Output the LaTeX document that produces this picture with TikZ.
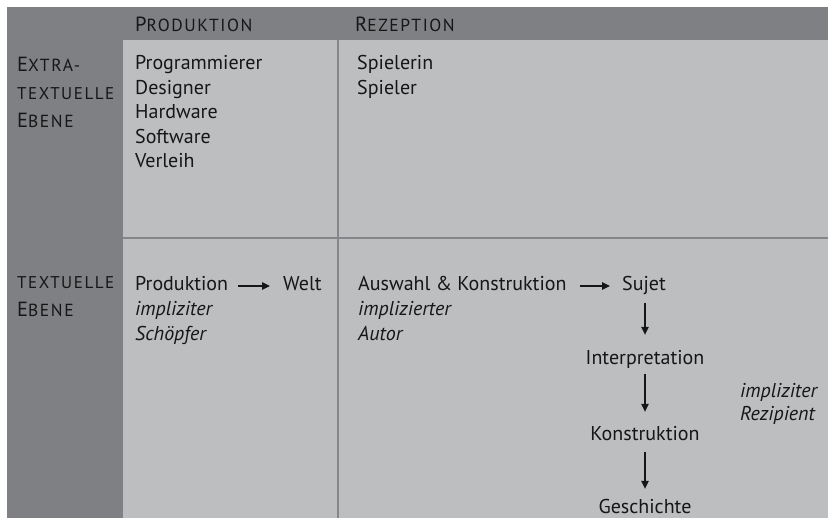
\documentclass[tikz,border=0pt]{standalone}
\usepackage{fontspec}
\setmainfont{PT Sans}
\newfontfamily\scspaced[LetterSpace=9]{PT Sans}
\usetikzlibrary{arrows.meta}
\definecolor{darkg}{HTML}{7F8083}
\definecolor{lightg}{HTML}{BDBEC0}
\definecolor{lineg}{HTML}{85868A}
\definecolor{ink}{HTML}{161616}
\newcommand\SCap[2]{{\fontsize{20.5}{20.5}\selectfont #1}{\scspaced\fontsize{17.5}{17.5}\selectfont #2}}
\newcommand\SCall[1]{{\scspaced\fontsize{17}{17}\selectfont #1}}
\tikzset{
  txt/.style={anchor=base west, inner sep=0pt, text=ink, font=\fontsize{20}{20}\selectfont,
              text height=13pt, text depth=4pt},
  ctxt/.style={txt, anchor=base},
  arr/.style={draw=ink, line width=1.1pt, -{Triangle[length=8pt,width=7.5pt]}},
}
\begin{document}
\begin{tikzpicture}[x=1pt,y=-1pt]
\useasboundingbox (0,0) rectangle (828,518);
\fill[white] (0,0) rectangle (828,518);
\fill[darkg] (7,7) rectangle (828,518);
\fill[lightg] (123,40) rectangle (828,518);
\draw[lineg, line width=1.2pt] (338,40) -- (338,518);
\draw[lineg, line width=1.2pt] (123,238) -- (828,238);

% headers
\node[txt] (hprod) at (135,32) {\SCap{P}{RODUKTION}};
\node[txt] (hrez) at (355,32) {\SCap{R}{EZEPTION}};
\node[txt] (hextra) at (17,72) {\SCap{E}{XTRA-}};
\node[txt] (htext1) at (17,100) {\SCall{TEXTUELLE}};
\node[txt] (hebene1) at (17,128) {\SCap{E}{BENE}};
\node[txt] (htext2) at (17,289) {\SCall{TEXTUELLE}};
\node[txt] (hebene2) at (17,317) {\SCap{E}{BENE}};

% extra-textual
\node[txt] (p1) at (135,70) {Programmierer};
\node[txt] (p2) at (135,94.5) {Designer};
\node[txt] (p3) at (135,119) {Hardware};
\node[txt] (p4) at (135,143.5) {Software};
\node[txt] (p5) at (135,168) {Verleih};
\node[txt] (r1) at (357,70) {Spielerin};
\node[txt] (r2) at (357,94.5) {Spieler};

% textual production
\node[txt] (prod) at (135,291) {Produktion};
\node[txt] (welt) at (283,291) {Welt};
\node[txt] (impl1) at (135,316) {\itshape impliziter};
\node[txt] (schoepfer) at (135,341) {\itshape Schöpfer};
\draw[arr, shorten <=10pt, shorten >=13pt] ([yshift=5pt]prod.base east) -- ([yshift=5pt]welt.base west);

% textual reception
\node[txt] (ausw) at (358,291) {Auswahl \& Konstruktion};
\node[txt] (sujet) at (622,291) {Sujet};
\node[txt] (impl2) at (358,316) {\itshape implizierter};
\node[txt] (autor) at (358,341) {\itshape Autor};
\draw[arr, shorten <=13pt, shorten >=12pt] ([yshift=5pt]ausw.base east) -- ([yshift=5pt]sujet.base west);

\node[ctxt] (interp) at (645,365) {Interpretation};
\node[ctxt] (konstr) at (645,441) {Konstruktion};
\node[ctxt] (gesch) at (645,514) {Geschichte};
\node[txt] (impl3) at (740,398) {\itshape impliziter};
\node[txt] (rezip) at (740,421) {\itshape Rezipient};

\draw[arr, shorten <=8pt, shorten >=17pt] (interp.north |- sujet.south) -- (interp.north);
\draw[arr, shorten <=5pt, shorten >=16pt] (interp.south) -- (konstr.north);
\draw[arr, shorten <=7pt, shorten >=12pt] (konstr.south) -- (gesch.north);
\end{tikzpicture}
\end{document}
